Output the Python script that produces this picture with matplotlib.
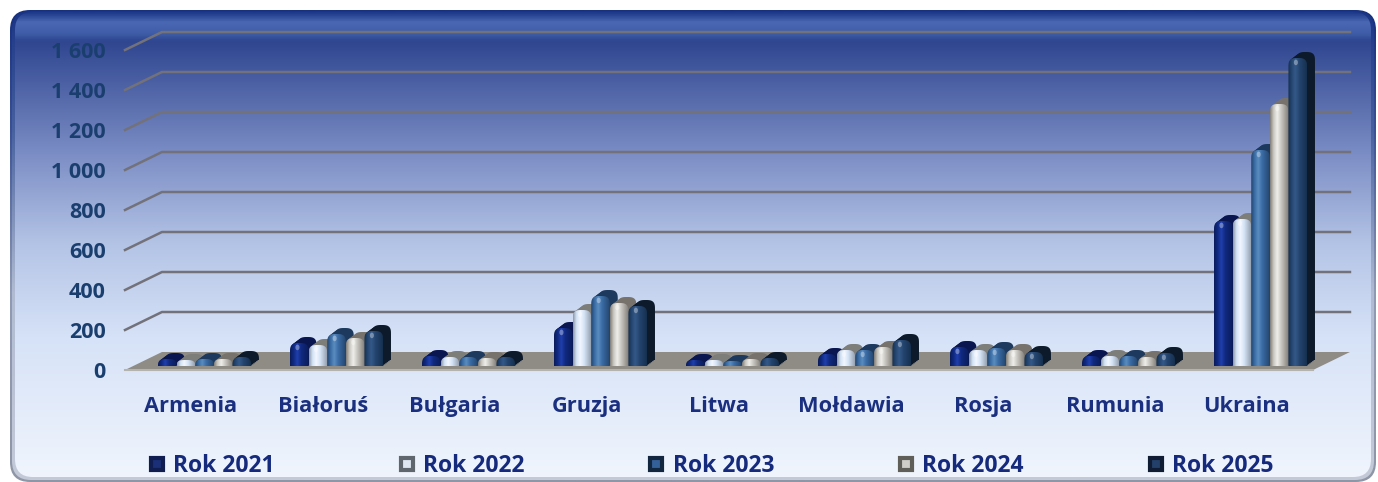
import numpy as np
import matplotlib
matplotlib.use("Agg")
import matplotlib.pyplot as plt
from matplotlib.colors import LinearSegmentedColormap
from matplotlib.lines import Line2D
from matplotlib.patches import Ellipse, FancyBboxPatch, Polygon

plt.rcParams['font.family'] = ['Open Sans', 'DejaVu Sans']

countries = ["Armenia", "Białoruś", "Bułgaria", "Gruzja", "Litwa", "Mołdawia", "Rosja", "Rumunia", "Ukraina"]
rok_2021 = [35, 115, 50, 190, 30, 60, 95, 50, 725]
rok_2022 = [30, 105, 45, 280, 30, 80, 80, 50, 735]
rok_2023 = [35, 160, 45, 350, 25, 80, 90, 50, 1080]
rok_2024 = [35, 140, 40, 315, 35, 95, 80, 45, 1310]
rok_2025 = [45, 175, 45, 300, 40, 130, 70, 65, 1540]
series = [rok_2021, rok_2022, rok_2023, rok_2024, rok_2025]
series_names = ["Rok 2021", "Rok 2022", "Rok 2023", "Rok 2024", "Rok 2025"]
y_ticks = [0, 200, 400, 600, 800, 1000, 1200, 1400, 1600]
y_labels = ["0", "200", "400", "600", "800", "1 000", "1 200", "1 400", "1 600"]

# edge, body, highlight, side
bar_colors = [
    ("#0b1c5c", "#10297f", "#1f3fae", "#0a1650"),
    ("#8d99a8", "#d3e2f6", "#f2f7ff", "#7d7d7a"),
    ("#23466f", "#3a6ba3", "#5a8cc0", "#1d3a5e"),
    ("#807d78", "#c9c6c0", "#efeeea", "#77736c"),
    ("#16304f", "#24456f", "#34598a", "#0d1a2b"),
]
legend_colors = [("#101d50", "#1a2f78"), ("#5f666e", "#dfe8f2"), ("#12263f", "#34609a"),
                 ("#5f5e58", "#d0cec8"), ("#0f1c33", "#22406a")]

W, H = 1378, 482
fig = plt.figure(figsize=(W / 100, H / 100), dpi=100, facecolor="white")

# background panel with bevel
bg = fig.add_axes([0, 0, 1, 1])
bg.set_xlim(0, W)
bg.set_ylim(H, 0)
bg.axis("off")


def panel(x0, y0, x1, y1, rad, stops):
    cmap = LinearSegmentedColormap.from_list("p", stops)
    grad = np.linspace(0, 1, 256).reshape(-1, 1)
    im = bg.imshow(grad, cmap=cmap, extent=[x0, x1, y1, y0], aspect="auto", zorder=1, vmin=0, vmax=1)
    box = FancyBboxPatch((x0 + rad, y0 + rad), x1 - x0 - 2 * rad, y1 - y0 - 2 * rad,
                         boxstyle="round,pad=%d,rounding_size=%d" % (rad, rad),
                         transform=bg.transData, fc="none", ec="none")
    bg.add_patch(box)
    im.set_clip_path(box)


panel(10, 10, 1376, 482, 20, [(0, "#17307f"), (0.25, "#3a5096"), (0.6, "#8f9ab4"), (1, "#8f96a6")])
panel(12, 11, 1374, 480, 19, [(0, "#1b3586"), (0.25, "#46609f"), (0.6, "#b0bbd2"), (1, "#c4cad8")])
panel(15, 12, 1371, 477, 18, [(0, "#1e3a8a"), (0.02, "#4a68b4"), (0.045, "#3f5ca8"), (0.06, "#2f4690"),
                              (0.3, "#7a8cc4"), (0.5, "#b4c4e6"), (0.7, "#d6e2f7"), (1, "#f0f5fd")])
bg.set_xlim(0, W)
bg.set_ylim(H, 0)

ax = fig.add_axes([125 / W, 1 - 370 / H, 1188 / W, 320 / H])
ax.patch.set_alpha(0)
for s in ax.spines.values():
    s.set_visible(False)

depth_x = 0.28
depth_y = 90
x_left, x_right = -0.5, 8.5

for v in y_ticks[1:]:
    ax.plot([x_left, x_left + depth_x, x_right + depth_x], [v, v + depth_y, v + depth_y],
            color="#73727a", lw=1.8, zorder=2, clip_on=False, solid_joinstyle="round")

ax.add_patch(Polygon([(x_left, 0), (x_left + depth_x, depth_y), (x_right + depth_x, depth_y), (x_right, 0)],
                     fc="#8f8c85", ec="none", zorder=3, clip_on=False))
ax.plot([x_left, x_right], [0, 0], color="#b4b4ae", lw=1.5, zorder=3, clip_on=False)

bar_w = 0.141
bar_start = -0.25
base = 20
side_x = 0.06
side_y = 30


def bar_outline(x0, h):
    # rounded top, fuller shoulders than a plain ellipse
    ry = min(45, h)
    t = np.linspace(np.pi, 0, 32)
    n = 0.65
    xs = x0 + bar_w / 2 + bar_w / 2 * np.sign(np.cos(t)) * np.abs(np.cos(t)) ** n
    ys = base + h - ry + ry * np.abs(np.sin(t)) ** n
    return np.vstack([[x0, base], np.column_stack([xs, ys]), [x0 + bar_w, base]])


z = 5
for c in range(len(countries)):
    for j, vals in enumerate(series):
        x0 = c + bar_start + j * bar_w
        h = vals[c]
        edge, body, hi, side = bar_colors[j]
        outline = bar_outline(x0, h)
        for t in np.linspace(1, 0.1, 6):
            ax.add_patch(Polygon(outline + [side_x * t, side_y * t], fc=side, ec="none", zorder=z, clip_on=False))
        cmap = LinearSegmentedColormap.from_list("b", [(0, edge), (0.18, body), (0.38, hi), (0.6, body), (1, edge)])
        im = ax.imshow(np.linspace(0, 1, 64).reshape(1, -1), cmap=cmap, aspect="auto", zorder=z + 1,
                       extent=[x0, x0 + bar_w, base, base + h + 2], vmin=0, vmax=1)
        clip = Polygon(outline, fc="none", ec="none", transform=ax.transData, zorder=z + 1)
        ax.add_patch(clip)
        im.set_clip_path(clip)
        if h > 60:
            ax.add_patch(Ellipse((x0 + bar_w * 0.4, base + h - 22), bar_w * 0.22, 28, fc="white", ec="none",
                                 alpha=0.35, zorder=z + 2))
        z += 3

ax.set_xlim(x_left, x_right)
ax.set_ylim(0, 1600)
ax.set_yticks(y_ticks)
ax.set_yticklabels(y_labels, fontsize=15.5, fontweight="bold", color="#1a3f6f", va="center_baseline")
ax.set_xticks(range(len(countries)))
ax.set_xticklabels(countries, fontsize=15.7, fontweight="bold", color="#1a2f80")
ax.tick_params(axis="both", length=0)
ax.tick_params(axis="y", pad=14)
ax.tick_params(axis="x", pad=18.5)

handles = [Line2D([], [], ls="none", marker="s", ms=8.5, mec=e, mfc=f, mew=3) for e, f in legend_colors]
leg = ax.legend(handles, series_names, ncol=5, frameon=False, loc="center left",
                bbox_to_anchor=(-0.006, -0.30), prop={"size": 16.5, "weight": "bold"},
                labelcolor="#152a7c", handletextpad=-0.1, columnspacing=4.97, handlelength=1.6)

fig.savefig("out.png", dpi=100)
